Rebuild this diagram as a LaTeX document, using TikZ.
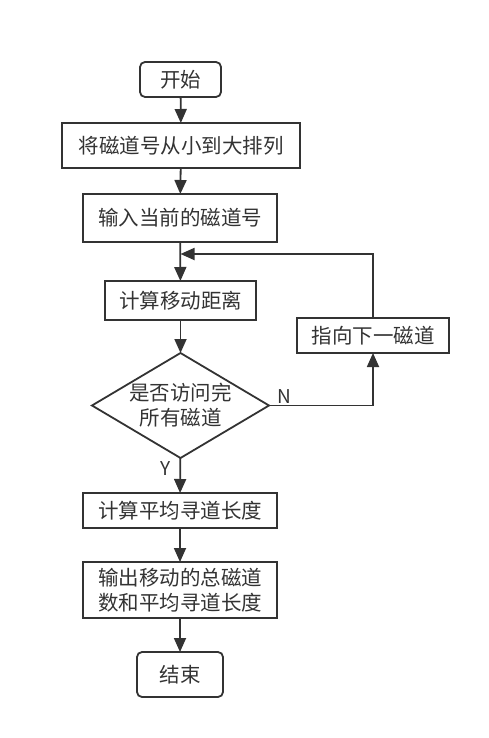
\documentclass[tikz,border=0pt]{standalone}
\usepackage{fontspec}
\setmainfont{Noto Sans CJK SC}
\usetikzlibrary{shapes.geometric,arrows.meta}
\definecolor{ink}{HTML}{333333}
\tikzset{
  box/.style={draw=ink, line width=1.8pt, text=ink, inner sep=0pt, outer sep=0pt, align=center, font=\fontsize{20.5}{25}\selectfont},
  term/.style={box, rounded corners=5pt},
  decide/.style={box, diamond, aspect=1.69},
  flow/.style={draw=ink, line width=1.8pt, -{Triangle[length=14pt,width=12pt]}},
  tag/.style={text=ink, font=\fontsize{19}{20}\selectfont}
}
\begin{document}
\begin{tikzpicture}[x=1pt,y=-1pt]

  \useasboundingbox (0,0) rectangle (489,738);

  % Knoten der Hauptspalte
  \node[term, minimum width=81, minimum height=35] (start) at (180.5,79.5) {开始};
  \node[box, minimum width=238, minimum height=45] (sort) at (181,145.5) {将磁道号从小到大排列};
  \node[box, minimum width=194, minimum height=48] (input) at (180,218) {输入当前的磁道号};
  \node[box, minimum width=151, minimum height=39] (calc) at (180.5,300.5) {计算移动距离};
  \node[decide, minimum width=177, minimum height=105] (done) at (180.5,405.5) {是否访问完\\所有磁道};
  \node[box, minimum width=194, minimum height=35] (avg) at (180,510.5) {计算平均寻道长度};
  \node[box, minimum width=194, minimum height=56] (out) at (180,590) {输出移动的总磁道\\数和平均寻道长度};
  \node[term, minimum width=86, minimum height=45] (stop) at (180,674.5) {结束};

  % Schleife rechts
  \node[box, minimum width=152, minimum height=35] (next) at (373,335.5) {指向下一磁道};
  \coordinate (merge) at (180.5,254);

  % Pfeile
  \draw[flow] (start) -- (sort);
  \draw[flow] (sort) -- (input);
  \draw[flow] (input) -- (calc);
  \draw[flow] (calc) -- (done);
  \draw[flow] (done) -- (avg);
  \draw[flow] (avg) -- (out);
  \draw[flow] (out) -- (stop);
  \draw[flow] (done.east) -| (next.south);
  \draw[flow] (next.north) |- (merge);

  % Beschriftungen
  \node[tag] (no) at (284,397) {N};
  \node[tag] (yes) at (166,469) {Y};

\end{tikzpicture}
\end{document}
